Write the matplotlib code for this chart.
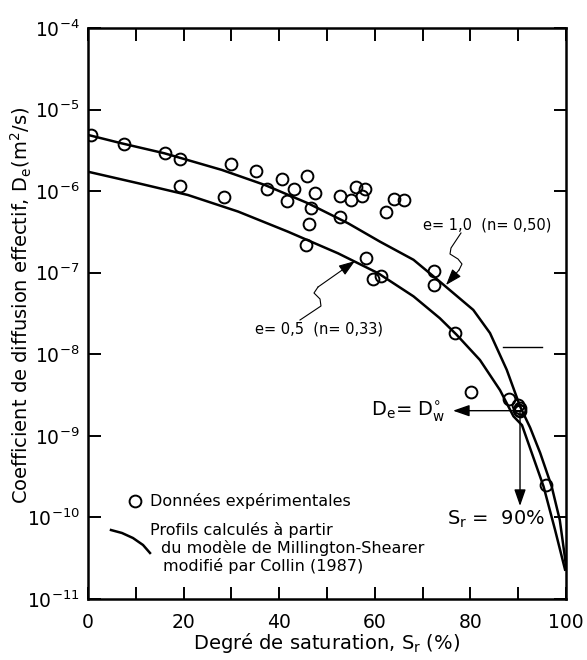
import matplotlib
matplotlib.use("Agg")
import matplotlib.pyplot as plt
from matplotlib.ticker import FixedLocator, LogFormatterSciNotation, NullLocator, FixedFormatter

plt.rcParams['font.family'] = ['DejaVu Sans']
plt.rcParams['mathtext.default'] = 'regular'

# Experimental data (Sr %, De m2/s)
sr_exp = [0.6, 7.5, 16.2, 19.3, 19.3, 28.5, 30.0, 35.1, 37.4, 40.6, 41.7, 43.2,
          45.9, 47.5, 46.6, 46.2, 45.6, 52.8, 52.8, 55.1, 56.0, 57.3, 57.9, 58.2,
          59.6, 61.3, 62.4, 64.0, 66.2, 72.3, 72.3, 76.8, 80.2, 88.0, 90.0, 90.3,
          90.4, 90.1, 95.8]
de_exp = [4.89e-6, 3.80e-6, 2.91e-6, 2.51e-6, 1.17e-6, 8.4e-7, 2.14e-6, 1.75e-6,
          1.06e-6, 1.40e-6, 7.6e-7, 1.06e-6, 1.55e-6, 9.6e-7, 6.3e-7, 4.0e-7,
          2.21e-7, 8.8e-7, 4.88e-7, 7.8e-7, 1.14e-6, 8.8e-7, 1.05e-6, 1.51e-7,
          8.4e-8, 9.0e-8, 5.6e-7, 7.9e-7, 7.7e-7, 1.05e-7, 7.1e-8, 1.82e-8,
          3.47e-9, 2.82e-9, 2.40e-9, 2.19e-9, 2.0e-9, 2.09e-9, 2.5e-10]

# Model curve e = 1,0 (n = 0,50)
sr_e10 = [0, 7, 16, 28, 37, 46, 54.4, 61.1, 68.1, 73.6, 80.6, 84.1, 87.6, 90.4,
          92.5, 94.6, 97.0, 98.7, 99.8, 100]
de_e10 = [4.89e-6, 3.86e-6, 2.91e-6, 1.82e-6, 1.19e-6, 7.11e-7, 4.04e-7, 2.40e-7,
          1.44e-7, 7.78e-8, 3.50e-8, 1.82e-8, 6.46e-9, 2.29e-9, 1.26e-9, 6.17e-10,
          2.40e-10, 9.3e-11, 3.16e-11, 2.4e-11]

# Model curve e = 0,5 (n = 0,33)
sr_e05 = [0, 10.5, 20.9, 31.4, 41.8, 52.3, 60.7, 68.1, 73.6, 77.1, 82.0, 86.2,
          89.0, 90.8, 93.2, 95.3, 97.7, 99.8]
de_e05 = [1.73e-6, 1.25e-6, 8.97e-7, 5.62e-7, 3.19e-7, 1.73e-7, 9.86e-8, 5.13e-8,
          2.77e-8, 1.74e-8, 8.51e-9, 3.63e-9, 1.74e-9, 1.35e-9, 5.37e-10, 2.40e-10,
          7.08e-11, 2.29e-11]

x_ticks = [0, 10, 20, 30, 40, 50, 60, 70, 80, 90, 100]
x_labels = ['0', '', '20', '', '40', '', '60', '', '80', '', '100']
y_ticks = [1e-11, 1e-10, 1e-9, 1e-8, 1e-7, 1e-6, 1e-5, 1e-4]

fig = plt.figure(figsize=(5.87, 6.60), dpi=100)
ax = fig.add_axes([88/587, 1-599/660, 478/587, 571/660])

ax.plot(sr_e10, de_e10, color='black', lw=1.8, zorder=2)
ax.plot(sr_e05, de_e05, color='black', lw=1.8, zorder=2)
ax.plot(sr_exp, de_exp, linestyle='none', marker='o', ms=8.5, mfc='none',
        mec='black', mew=1.4, zorder=3)

ax.set_yscale('log')
ax.set_xlim(0, 100)
ax.set_ylim(1e-11, 1e-4)
ax.xaxis.set_major_locator(FixedLocator(x_ticks))
ax.xaxis.set_major_formatter(FixedFormatter(x_labels))
ax.yaxis.set_major_locator(FixedLocator(y_ticks))
ax.yaxis.set_major_formatter(LogFormatterSciNotation())
ax.yaxis.set_minor_locator(NullLocator())
ax.tick_params(axis='both', which='major', direction='in', length=9, width=1.4,
               top=True, right=True, labelsize=13.5, colors='black')
ax.tick_params(axis='x', pad=10)
ax.tick_params(axis='y', pad=6)
for s in ax.spines.values():
    s.set_linewidth(1.8)

ax.set_xlabel('Degré de saturation, S$_r$ (%)', fontsize=14)
ax.xaxis.set_label_coords(0.5, -0.056)
ax.set_ylabel('Coefficient de diffusion effectif, D$_e$(m$^2$/s)', fontsize=14)
ax.yaxis.set_label_coords(-0.112, 0.515)

T = ax.transAxes
# e = 1,0 annotation
ax.text(0.701, 0.655, 'e= 1,0  (n= 0,50)', transform=T, fontsize=10.5,
        ha='left', va='center')
sq1x = [0.7803, 0.7594, 0.7573, 0.7741, 0.7824, 0.7762]
sq1y = [0.6410, 0.6147, 0.6042, 0.5954, 0.5867, 0.5762]
ax.plot(sq1x, sq1y, transform=T, color='black', lw=0.8)
ax.annotate('', xy=(0.7490, 0.5499), xytext=(0.7762, 0.5762),
            xycoords=T, textcoords=T,
            arrowprops=dict(arrowstyle='-|>,head_length=1.0,head_width=0.35',
                            color='black', lw=0.8, shrinkA=0, shrinkB=0))

# e = 0,5 annotation
ax.text(0.3494, 0.4729, 'e= 0,5  (n= 0,33)', transform=T, fontsize=10.5,
        ha='left', va='center')
sq2x = [0.4435, 0.4874, 0.4854, 0.4728, 0.4812]
sq2y = [0.4886, 0.5131, 0.5254, 0.5359, 0.5464]
ax.plot(sq2x, sq2y, transform=T, color='black', lw=0.8)
ax.annotate('', xy=(0.5586, 0.5919), xytext=(0.4812, 0.5464),
            xycoords=T, textcoords=T,
            arrowprops=dict(arrowstyle='-|>,head_length=1.0,head_width=0.35',
                            color='black', lw=0.8, shrinkA=0, shrinkB=0))

# stray short line
ax.plot([0.868, 0.950], [0.4419, 0.4419], transform=T, color='black', lw=1.0)

# De = Dw annotation
ax.text(0.5914, 0.3275, 'D$_e$= D$_w^{\\circ}$', transform=T, fontsize=14,
        ha='left', va='center')
ax.annotate('', xy=(0.7636, 0.3298), xytext=(0.9038, 0.3298),
            xycoords=T, textcoords=T,
            arrowprops=dict(arrowstyle='-|>,head_length=1.0,head_width=0.35',
                            color='black', lw=1.0, shrinkA=0, shrinkB=0))
ax.annotate('', xy=(0.9038, 0.1629), xytext=(0.9038, 0.3298),
            xycoords=T, textcoords=T,
            arrowprops=dict(arrowstyle='-|>,head_length=1.0,head_width=0.35',
                            color='black', lw=1.0, shrinkA=0, shrinkB=0))
ax.text(0.7504, 0.1401, 'S$_r$ =  90%', transform=T, fontsize=14,
        ha='left', va='center')

# Legend (manual)
ax.plot([0.0983], [0.1722], transform=T, marker='o', ms=8.5, mfc='none',
        mec='black', mew=1.4, linestyle='none')
ax.text(0.1297, 0.1722, 'Données expérimentales', transform=T, fontsize=11.5,
        ha='left', va='center')
lgx = [0.0481, 0.0711, 0.0941, 0.1151, 0.1297]
lgy = [0.1208, 0.1156, 0.1068, 0.0946, 0.0806]
ax.plot(lgx, lgy, transform=T, color='black', lw=1.8)
ax.text(0.1297, 0.1208, 'Profils calculés à partir', transform=T, fontsize=11.5,
        ha='left', va='center')
ax.text(0.1521, 0.0888, 'du modèle de Millington-Shearer', transform=T,
        fontsize=11.5, ha='left', va='center')
ax.text(0.1575, 0.0578, 'modifié par Collin (1987)', transform=T, fontsize=11.5,
        ha='left', va='center')

fig.savefig('out.png', dpi=100)
